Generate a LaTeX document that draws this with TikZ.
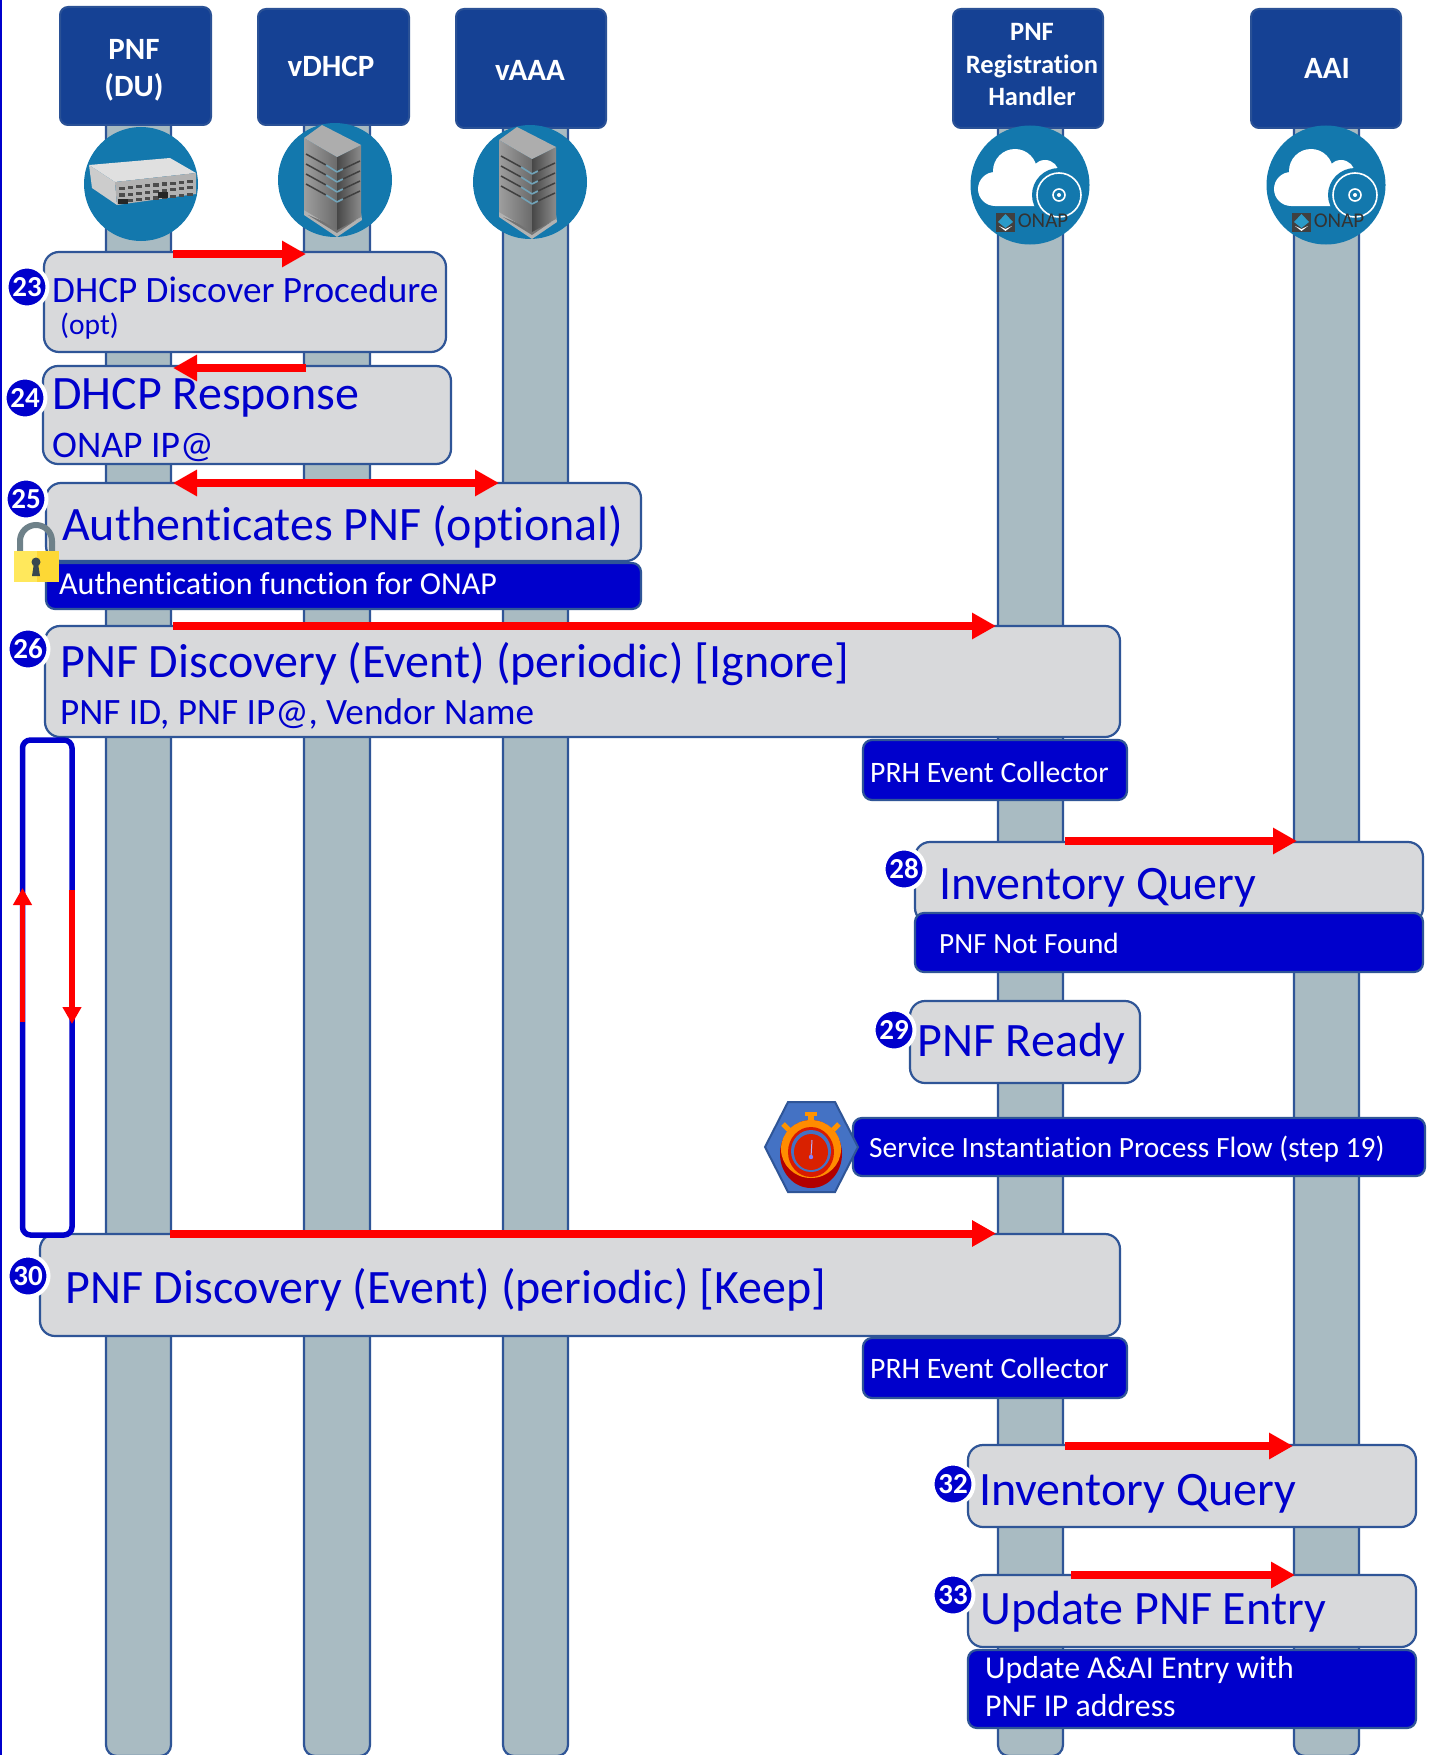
\documentclass[tikz,border=0pt]{standalone}
\usepackage{fontspec}
\setmainfont[Ligatures=NoCommon]{Carlito}
\usetikzlibrary{arrows.meta,shapes.geometric}
\definecolor{hdrfill}{HTML}{154194}
\definecolor{edge}{HTML}{2F5597}
\definecolor{life}{HTML}{A9BBC2}
\definecolor{gfill}{HTML}{D8D9DB}
\definecolor{bluefill}{HTML}{0000CC}
\definecolor{iconblue}{HTML}{1378AD}
\definecolor{rd}{HTML}{FF0000}
\definecolor{hexblue}{HTML}{4472C4}
\definecolor{shackle}{HTML}{6E8189}
\definecolor{locka}{HTML}{FFE85C}
\definecolor{lockb}{HTML}{FDD835}
\definecolor{lockk}{HTML}{37474F}
\newcommand\fs[1]{\fontsize{#1}{#1}\selectfont}
\tikzset{
  lifeline/.style={draw=edge,line width=2.2pt,fill=life,rounded corners=11pt},
  hdrbox/.style={draw=edge!80!hdrfill,line width=2pt,fill=hdrfill,rounded corners=8pt,inner sep=0pt,outer sep=0pt},
  hdrtext/.style={text=white,align=center,inner sep=0pt},
  graybox/.style={draw=edge,line width=2.2pt,fill=gfill,rounded corners=15pt,inner sep=0pt,outer sep=0pt},
  bluebox/.style={draw=edge,line width=2.2pt,fill=bluefill,rounded corners=9pt,inner sep=0pt,outer sep=0pt},
  iconcirc/.style={circle,fill=iconblue,inner sep=0pt,minimum size=#1},
  lab/.style={anchor=base west,inner sep=0pt,text=bluefill},
  wlab/.style={anchor=base west,inner sep=0pt,text=white},
  badge/.style={circle,fill=bluefill,draw=white,line width=4pt,minimum size=41pt,inner sep=0pt,text=white,font=\bfseries\fs{29}},
  msg/.style={draw=rd,line width=8pt},
  tip/.style={-{Triangle[length=24pt,width=25pt]}},
  tipboth/.style={{Triangle[length=24pt,width=25pt]}-{Triangle[length=24pt,width=25pt]}},
  loopline/.style={draw=rd,line width=5.5pt,-{Triangle[length=17pt,width=18pt]}},
}
\newcommand\bx[6]{\node[#1,minimum width={#5-#3},minimum height={#6-#4}] (#2) at ({(#3+#5)/2},{(#4+#6)/2}) {};}
\newcommand\servericon[2]{%
\begin{scope}[shift={(#1,#2)}]
  \fill[gray!60] (-30,34) -- (3,56) -- (28,39) -- (27,32) -- (3,44) -- (-30,26) -- cycle;
  \fill[black!55] (-26,34) -- (3,52) -- (22,39) -- (3,46) -- cycle;
  \path[left color=black!38,right color=black!58] (-30,-43) -- (3,-24) -- (3,49) -- (-30,29) -- cycle;
  \path[left color=black!72,right color=black!45] (3,-24) -- (27,-36) -- (27,36) -- (3,49) -- cycle;
  \fill[black!32] (-12,-56) -- (-30,-43) -- (3,-24) -- (27,-36) -- cycle;
  \foreach \d in {0,10,20,30}{
    \draw[black!75,line width=1.5pt] (-28,{-27+\d}) -- (-8,{-16+\d});
    \draw[cyan!40!gray,line width=1.6pt] (-8,{-16+\d}) -- (3,{-9+\d});
    \draw[cyan!40!gray,line width=1.6pt] (3,{-9+\d}) -- (9,{-12+\d});
    \draw[black!75,line width=1.5pt] (9,{-12+\d}) -- (26,{-20+\d});
  }
\end{scope}}
\newcommand\cloudicon[2]{%
\begin{scope}[shift={(#1,#2)}]
  \fill[white] (-15,-15) circle[radius=22pt] (-35,3) circle[radius=17pt] (15,-12) circle[radius=14pt] (-35,-4) rectangle (25,20);
  \fill[iconblue] (29,9) circle[radius=27pt];
  \draw[white,line width=1.6pt] (29,9) circle[radius=22pt];
  \draw[white,line width=1.6pt] (29,9) circle[radius=6pt];
  \fill[white] (29,9) circle[radius=2pt];
  \fill[black!75] (-34,27) rectangle (-15,46);
  \fill[white] (-31,40) -- (-24.5,45) -- (-18,40) -- (-24.5,43) -- cycle;
  \fill[cyan!60!teal] (-24.5,28) -- (-17,36) -- (-24.5,42) -- (-32,36) -- cycle;
  \node[inner sep=0pt,text=black!80] (onap#1) at (13,35) {\fs{21}ONAP};
\end{scope}}
\begin{document}
\begin{tikzpicture}[x=1pt,y=-1pt]
\useasboundingbox (0,0) rectangle (1428,1755);
\fill[white] (0,0) rectangle (1428,1755);
\draw[bluefill,line width=4pt] (0,0) -- (0,1755);
% lifelines
\foreach \a/\b in {106/171,304/370,503/568,998/1063,1294/1359}
  \draw[lifeline] (\a,100) rectangle (\b,1756);
% headers
\bx{hdrbox}{hPNF}{60}{7}{211}{125}
\bx{hdrbox}{hDHCP}{258}{9}{409}{125}
\bx{hdrbox}{hAAA}{456}{9}{606}{128}
\bx{hdrbox}{hPRH}{953}{9}{1103}{128}
\bx{hdrbox}{hAAI}{1251}{9}{1401}{128}
\node[hdrtext,font=\bfseries\fontsize{31}{37}\selectfont] (tPNF) at (134,70) {PNF\\(DU)};
\node[hdrtext,font=\bfseries\fs{31}] (tDHCP) at (331,66) {vDHCP};
\node[hdrtext,font=\bfseries\fs{31}] (tAAA) at (530,70) {vAAA};
\node[hdrtext,font=\bfseries\fontsize{26.5}{32.5}\selectfont] (tPRH) at (1032,65) {PNF\\Registration\\Handler};
\node[hdrtext,font=\bfseries\fs{31}] (tAAI) at (1327,68) {AAI};
% icons
\node[iconcirc=114pt] (cPNF) at (141,184) {};
\node[iconcirc=114pt] (cDHCP) at (335,180) {};
\node[iconcirc=114pt] (cAAA) at (530,182) {};
\node[iconcirc=119pt] (cPRH) at (1030,185) {};
\node[iconcirc=119pt] (cAAI) at (1326,185) {};
\begin{scope}[shift={(141,184)}]
  \fill[black!12] (-52,-19) -- (29,-26) -- (55,-11) -- (-26,-2) -- cycle;
  \fill[black!20] (-52,-19) -- (-26,-2) -- (-24,21) -- (-49,4) -- cycle;
  \fill[black!30] (-26,-2) -- (55,-11) -- (55,10) -- (-24,21) -- cycle;
  \foreach \i in {0,...,8}\foreach \j in {0,1,2}
    \fill[black!70] ({-22+8.5*\i},{3+6.5*\j-0.9*\i}) rectangle ++(5.5,3.2);
  \fill[black!85] (-23,15) rectangle (-13,20);
  \fill[black!85] (17,8) rectangle (27,14);
\end{scope}
\servericon{334}{181}
\servericon{529}{183}
\cloudicon{1030}{186}
\cloudicon{1326}{186}
% boxes
\bx{graybox}{b23}{44}{252}{446}{352}
\bx{graybox}{b24}{43}{366}{451}{464}
\bx{graybox}{b25}{46}{483}{641}{561}
\bx{bluebox}{b25a}{46}{563}{641}{609}
\bx{graybox}{b26}{45}{626}{1120}{737}
\bx{bluebox}{bPRH1}{863}{740}{1127}{800}
\bx{graybox}{b28}{915}{842}{1423}{923}
\bx{bluebox}{b28a}{915}{913}{1423}{972}
\bx{graybox}{b29}{910}{1001}{1140}{1083}
\bx{bluebox}{bSvc}{853}{1118}{1425}{1176}
\bx{graybox}{b30}{40}{1234}{1120}{1336}
\bx{bluebox}{bPRH2}{863}{1338}{1127}{1398}
\bx{graybox}{b32}{968}{1445}{1416}{1527}
\bx{graybox}{b33}{968}{1575}{1416}{1647}
\bx{bluebox}{b33a}{968}{1650}{1416}{1728}
% hexagon clock
\draw[edge,line width=2pt,fill=hexblue] (765,1147) -- (788,1102) -- (835,1102) -- (858,1147) -- (835,1192) -- (788,1192) -- cycle;
\begin{scope}[shift={(811,1152)}]
  \fill[orange!85!yellow] (-3,-38) rectangle (3,-27);
  \fill[orange!85!yellow] (-6,-40) rectangle (6,-36);
  \draw[orange!85!yellow,line width=5pt] (-28,-28) -- (-20,-20) (28,-28) -- (20,-20);
  \fill[red!70!black] (0,2) ellipse[x radius=31pt,y radius=34pt];
  \fill[orange!90!yellow] (0,-3) ellipse[x radius=30pt,y radius=29pt];
  \fill[red!75!orange!85!black] (0,0) ellipse[x radius=23pt,y radius=25pt];
  \fill[hexblue] (0,-1) ellipse[x radius=20pt,y radius=21pt];
  \fill[red!70!orange!85!black] (0,0) ellipse[x radius=17pt,y radius=18pt];
  \draw[white!70!blue,line width=1pt] (0,5) -- (1,-12);
  \fill[blue!50!white] (0,5) circle[radius=2.2pt];
\end{scope}
% labels
\node[lab] (l23) at (52,302) {\fs{37.2}DHCP Discover Procedure};
\node[lab] (l23a) at (60,334) {\fs{29.5}(opt)};
\node[lab] (l24) at (52,409) {\fs{48}DHCP Response};
\node[lab] (l24a) at (52,457) {\fs{37.6}ONAP IP@};
\node[lab] (l25) at (62,540) {\fs{48}Authenticates PNF (optional)};
\node[wlab] (l25a) at (59,594) {\fs{32}Authentication function for ONAP};
\node[lab] (l26) at (60,677) {\fs{48}PNF Discovery (Event) (periodic) [Ignore]};
\node[lab] (l26a) at (60,724) {\fs{37.2}PNF ID, PNF IP@, Vendor Name};
\node[wlab] (lP1) at (870,782) {\fs{29.7}PRH Event Collector};
\node[lab] (l28) at (939,899) {\fs{48}Inventory Query};
\node[wlab] (l28a) at (939,953) {\fs{29.3}PNF Not Found};
\node[lab] (l29) at (917,1056) {\fs{48}PNF Ready};
\node[wlab] (lSvc) at (869,1157) {\fs{29.4}Service Instantiation Process Flow (step 19)};
\node[lab] (l30) at (65,1303) {\fs{48}PNF Discovery (Event) (periodic) [Keep]};
\node[wlab] (lP2) at (870,1378) {\fs{29.7}PRH Event Collector};
\node[lab] (l32) at (979,1505) {\fs{48}Inventory Query};
\node[lab] (l33) at (980,1624) {\fs{48}Update PNF Entry};
\node[wlab] (l33a) at (985,1678) {\fs{31.8}Update A\&AI Entry with};
\node[wlab] (l33b) at (985,1716) {\fs{31.8}PNF IP address};
% arrows
\coordinate (a23s) at (173,254); \coordinate (a23e) at (306,254);
\coordinate (a24s) at (306,368); \coordinate (a24e) at (173,368);
\coordinate (a25s) at (173,483); \coordinate (a25e) at (499,483);
\coordinate (a26s) at (173,626); \coordinate (a26e) at (996,626);
\coordinate (a28s) at (1065,841); \coordinate (a28e) at (1297,841);
\coordinate (a30s) at (170,1233.5); \coordinate (a30e) at (996,1233.5);
\coordinate (a32s) at (1065,1446); \coordinate (a32e) at (1293,1446);
\coordinate (a33s) at (1071,1575); \coordinate (a33e) at (1295,1575);
\draw[msg,tip] (a23s) -- (a23e);
\draw[msg,tip] (a24s) -- (a24e);
\draw[msg,tipboth] (a25s) -- (a25e);
\draw[msg,tip] (a26s) -- (a26e);
\draw[msg,tip] (a28s) -- (a28e);
\draw[msg,tip] (a30s) -- (a30e);
\draw[msg,tip] (a32s) -- (a32e);
\draw[msg,tip] (a33s) -- (a33e);
% loop
\bx{draw=bluefill,line width=5.5pt,rounded corners=8pt}{loopb}{22.5}{740}{72}{1235}
\coordinate (lupS) at (22.5,1022); \coordinate (lupE) at (22.5,888);
\coordinate (ldnS) at (72,890); \coordinate (ldnE) at (72,1024);
\draw[loopline] (lupS) -- (lupE);
\draw[loopline] (ldnS) -- (ldnE);
% badges
\node[badge] (n23) at (27,287) {23};
\node[badge] (n24) at (25,398) {24};
\node[badge] (n25) at (26,499) {25};
\node[badge] (n26) at (28,649) {26};
\node[badge] (n28) at (904,869) {28};
\node[badge] (n29) at (894,1030) {29};
\node[badge] (n30) at (28,1276) {30};
\node[badge] (n32) at (953,1484) {32};
\node[badge] (n33) at (953,1595) {33};
% lock
\draw[shackle,line width=6pt] (20,556) -- (20,541) arc[start angle=180,end angle=0,radius=16pt] -- (52,556);
\fill[locka] (14,551) rectangle (37,582);
\fill[lockb] (37,551) rectangle (59,582);
\fill[lockk] (36,562) circle[radius=4.5pt];
\fill[lockk] (34,563) -- (38,563) -- (40,576) -- (32,576) -- cycle;
\end{tikzpicture}
\end{document}
